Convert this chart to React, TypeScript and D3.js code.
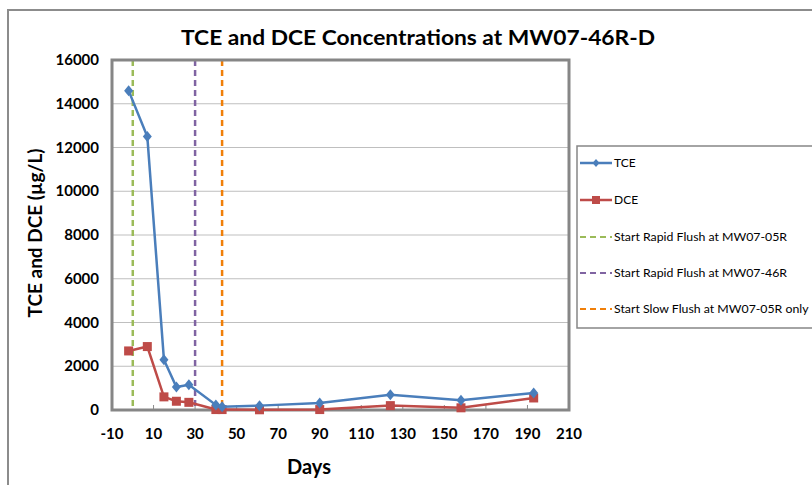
import React from "react";
import * as d3 from "d3";

const tceDays = [-2, 7, 15, 21, 27, 40, 43, 61, 90, 124, 158, 193];
const tceValues = [14600, 12500, 2300, 1050, 1150, 230, 150, 200, 320, 700, 450, 780];
const dceDays = [-2, 7, 15, 21, 27, 40, 43, 61, 90, 124, 158, 193];
const dceValues = [2700, 2900, 600, 400, 350, 20, 20, 10, 20, 200, 100, 550];
const eventDays = [0, 30, 43];
const eventLabels = [
  "Start Rapid Flush at MW07-05R",
  "Start Rapid Flush at MW07-46R",
  "Start Slow Flush at MW07-05R only",
];
const xTicks = [-10, 10, 30, 50, 70, 90, 110, 130, 150, 170, 190, 210];
const yTicks = [0, 2000, 4000, 6000, 8000, 10000, 12000, 14000, 16000];
const title = "TCE and DCE Concentrations at MW07-46R-D";

const TCE_COLOR = "#4A7EBB";
const DCE_COLOR = "#BE4B48";
const EVENT_COLORS = ["#9BBB59", "#8064A2", "#F07F09"];
const FONT = "Lato, 'Open Sans', sans-serif";

export default function App() {
  const left = 112, right = 569, top = 60, bottom = 410;
  const x = d3.scaleLinear().domain([-10, 210]).range([left, right]);
  const y = d3.scaleLinear().domain([0, 16000]).range([bottom, top]);
  const line = d3.line<[number, number]>().x((d) => x(d[0])).y((d) => y(d[1]));
  const tce: [number, number][] = tceDays.map((d, i) => [d, tceValues[i]]);
  const dce: [number, number][] = dceDays.map((d, i) => [d, dceValues[i]]);
  const legendY = [163, 200, 237, 273, 309];

  return (
    <svg
      width={812}
      height={485}
      style={{ position: "absolute", left: 0, top: 0, fontFamily: FONT }}
    >
      <rect x={0} y={0} width={812} height={485} fill="#fff" />
      <rect x={8} y={10} width={900} height={600} fill="#fff" stroke="#8c8c8c" strokeWidth={2} />
      <text
        x={418}
        y={45}
        textAnchor="middle"
        fontSize={20}
        fontWeight="bold"
        textLength={474}
        lengthAdjust="spacingAndGlyphs"
      >
        {title}
      </text>
      {/* gridlines */}
      {yTicks.map((t) => (
        <line key={t} x1={left} x2={right} y1={y(t)} y2={y(t)} stroke="#bfbfbf" strokeWidth={1} />
      ))}
      {/* x ticks inside */}
      {xTicks.map((t) => (
        <line key={t} x1={x(t)} x2={x(t)} y1={bottom} y2={bottom - 5} stroke="#8c8c8c" strokeWidth={1} />
      ))}
      {/* event lines */}
      {eventDays.map((d, i) => (
        <line
          key={d}
          x1={x(d)}
          x2={x(d)}
          y1={top}
          y2={bottom}
          stroke={EVENT_COLORS[i]}
          strokeWidth={2.5}
          strokeDasharray="6,4"
        />
      ))}
      {/* plot border */}
      <rect x={left} y={top} width={right - left} height={bottom - top} fill="none" stroke="#868686" strokeWidth={3} />
      {/* series */}
      <path d={line(dce) || ""} fill="none" stroke={DCE_COLOR} strokeWidth={2.5} />
      {dce.map((p, i) => (
        <rect key={i} x={x(p[0]) - 4.5} y={y(p[1]) - 4.5} width={9} height={9} fill={DCE_COLOR} />
      ))}
      <path d={line(tce) || ""} fill="none" stroke={TCE_COLOR} strokeWidth={2.5} />
      {tce.map((p, i) => (
        <path
          key={i}
          d={`M${x(p[0])},${y(p[1]) - 5.5}L${x(p[0]) + 4.5},${y(p[1])}L${x(p[0])},${y(p[1]) + 5.5}L${x(p[0]) - 4.5},${y(p[1])}Z`}
          fill={TCE_COLOR}
        />
      ))}
      {/* y tick labels */}
      {yTicks.map((t) => (
        <text key={t} x={99} y={y(t) + 5} textAnchor="end" fontSize={15} fontWeight="bold">
          {t}
        </text>
      ))}
      {/* x tick labels */}
      {xTicks.map((t) => (
        <text key={t} x={x(t)} y={439} textAnchor="middle" fontSize={15} fontWeight="bold">
          {t}
        </text>
      ))}
      <text x={309} y={474} textAnchor="middle" fontSize={20} fontWeight="bold">
        Days
      </text>
      <text
        transform="translate(42,233) rotate(-90)"
        textAnchor="middle"
        fontSize={19}
        fontWeight="bold"
      >
        TCE and DCE (µg/L)
      </text>
      {/* legend */}
      <rect x={577} y={146} width={300} height={182} fill="#fff" stroke="#868686" strokeWidth={1.5} />
      <line x1={580} x2={612} y1={legendY[0]} y2={legendY[0]} stroke={TCE_COLOR} strokeWidth={2.5} />
      <path
        d={`M596,${legendY[0] - 4}L599.5,${legendY[0]}L596,${legendY[0] + 4}L592.5,${legendY[0]}Z`}
        fill={TCE_COLOR}
      />
      <text x={614} y={legendY[0] + 4} fontSize={12}>TCE</text>
      <line x1={580} x2={612} y1={legendY[1]} y2={legendY[1]} stroke={DCE_COLOR} strokeWidth={2.5} />
      <rect x={592} y={legendY[1] - 4} width={8} height={8} fill={DCE_COLOR} />
      <text x={614} y={legendY[1] + 4} fontSize={12}>DCE</text>
      {eventLabels.map((lab, i) => (
        <g key={lab}>
          <line
            x1={580}
            x2={612}
            y1={legendY[i + 2]}
            y2={legendY[i + 2]}
            stroke={EVENT_COLORS[i]}
            strokeWidth={2}
            strokeDasharray="6,4"
          />
          <text x={614} y={legendY[i + 2] + 4} fontSize={12.3}>
            {lab}
          </text>
        </g>
      ))}
    </svg>
  );
}
